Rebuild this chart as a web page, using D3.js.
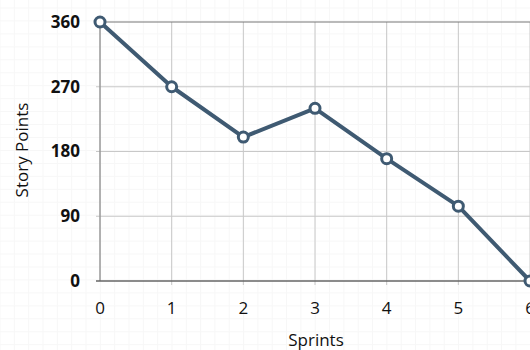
<!DOCTYPE html>
<html><head><meta charset="utf-8">
<script src="https://cdn.jsdelivr.net/npm/d3@7"></script>
<style>
html,body{margin:0;padding:0;background:#fff;}
svg{display:block;}
text{font-family:"Open Sans","Lato",sans-serif;fill:#111;}
</style></head>
<body>
<svg id="c" width="530" height="350"></svg>
<script>
const sprints = [0, 1, 2, 3, 4, 5, 6];
const storyPoints = [360, 270, 200, 240, 170, 104, 0];
const yTicks = [0, 90, 180, 270, 360];
const xTicks = [0, 1, 2, 3, 4, 5, 6];

const svg = d3.select("#c");
const W = 530, H = 350;
const m = {left: 100, right: 0, top: 22, bottom: 69};

const x = d3.scaleLinear().domain([0, 6]).range([m.left, W - m.right]);
const y = d3.scaleLinear().domain([0, 360]).range([H - m.bottom, m.top]);

// faint background paper grid
const bg = svg.append("g");
for (let gx = 0; gx <= W; gx += 14.33) {
  bg.append("line").attr("x1", gx).attr("x2", gx).attr("y1", 0).attr("y2", H)
    .attr("stroke", "#f7f7f7").attr("stroke-width", 1);
}
for (let gy = 8; gy <= H; gy += 12.95) {
  bg.append("line").attr("y1", gy).attr("y2", gy).attr("x1", 0).attr("x2", W)
    .attr("stroke", "#f7f7f7").attr("stroke-width", 1);
}

// vertical grid
svg.append("g").selectAll("line").data(xTicks.slice(1)).join("line")
  .attr("x1", d => x(d)).attr("x2", d => x(d))
  .attr("y1", y(360)).attr("y2", y(0) + 4)
  .attr("stroke", "#c8c8c8").attr("stroke-width", 1);
// horizontal grid
svg.append("g").selectAll("line").data(yTicks.slice(1)).join("line")
  .attr("x1", x(0) - 4).attr("x2", W)
  .attr("y1", d => y(d)).attr("y2", d => y(d))
  .attr("stroke", d => d === 360 ? "#777" : "#c8c8c8").attr("stroke-width", 1);

// axes lines
svg.append("line").attr("x1", x(0)).attr("x2", x(0)).attr("y1", y(360)).attr("y2", y(0))
  .attr("stroke", "#999").attr("stroke-width", 1.5);
svg.append("line").attr("x1", x(0) - 4).attr("x2", W).attr("y1", y(0)).attr("y2", y(0))
  .attr("stroke", "#666").attr("stroke-width", 1.5);

// y tick labels
svg.append("g").selectAll("text").data(yTicks).join("text")
  .attr("x", 80).attr("y", d => y(d)).attr("dy", "0.35em")
  .attr("text-anchor", "end").attr("font-size", 17).attr("font-weight", 700)
  .text(d => d);
// x tick labels
svg.append("g").selectAll("text").data(xTicks).join("text")
  .attr("x", d => x(d)).attr("y", 308).attr("dy", "0.35em")
  .attr("text-anchor", "middle").attr("font-size", 17)
  .text(d => d);

svg.append("text").attr("x", 316).attr("y", 340).attr("dy", "0.35em")
  .attr("text-anchor", "middle").attr("font-size", 17).text("Sprints");
svg.append("text").attr("transform", "translate(22,150) rotate(-90)").attr("dy", "0.35em")
  .attr("text-anchor", "middle").attr("font-size", 17).text("Story Points");

const data = sprints.map((s, i) => ({s, v: storyPoints[i]}));
const col = "#3f5a72";
svg.append("path").datum(data)
  .attr("d", d3.line().x(d => x(d.s)).y(d => y(d.v)))
  .attr("fill", "none").attr("stroke", col).attr("stroke-width", 4)
  .attr("stroke-linejoin", "round");
svg.append("g").selectAll("circle").data(data).join("circle")
  .attr("cx", d => x(d.s)).attr("cy", d => y(d.v)).attr("r", 5)
  .attr("fill", "#fff").attr("stroke", col).attr("stroke-width", 3);
</script>
</body></html>
